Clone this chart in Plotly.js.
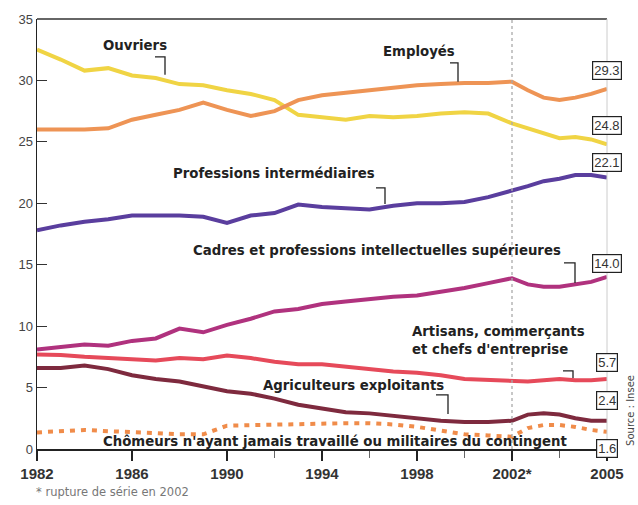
<!DOCTYPE html>
<html>
<head>
<meta charset="utf-8">
<script src="https://cdn.plot.ly/plotly-3.0.1.min.js"></script>
<style>html,body{margin:0;padding:0;background:#fff;}#chart{width:638px;height:505px;}</style>
</head>
<body>
<div id="chart"></div>
<script>
// Years (yearly to 2002, then half-yearly to 2005)
const years = [1982,1983,1984,1985,1986,1987,1988,1989,1990,1991,1992,1993,1994,1995,1996,1997,1998,1999,2000,2001,2002,2002.5,2003,2003.5,2004,2004.5,2005];

const ouvriers      = [32.5,31.7,30.8,31.0,30.4,30.2,29.7,29.6,29.2,28.9,28.4,27.2,27.0,26.8,27.1,27.0,27.1,27.3,27.4,27.3,26.5,26.1,25.7,25.3,25.4,25.2,24.8];
const employes      = [26.0,26.0,26.0,26.1,26.8,27.2,27.6,28.2,27.6,27.1,27.5,28.4,28.8,29.0,29.2,29.4,29.6,29.7,29.8,29.8,29.9,29.2,28.6,28.4,28.6,28.9,29.3];
const profInter     = [17.8,18.2,18.5,18.7,19.0,19.0,19.0,18.9,18.4,19.0,19.2,19.9,19.7,19.6,19.5,19.8,20.0,20.0,20.1,20.5,21.0,21.4,21.8,22.0,22.3,22.3,22.1];
const cadres        = [8.1,8.3,8.5,8.4,8.8,9.0,9.8,9.5,10.1,10.6,11.2,11.4,11.8,12.0,12.2,12.4,12.5,12.8,13.1,13.5,13.9,13.4,13.2,13.2,13.4,13.6,14.0];
const artisans      = [7.7,7.65,7.5,7.4,7.3,7.2,7.4,7.3,7.6,7.4,7.1,6.9,6.9,6.7,6.5,6.3,6.2,6.0,5.7,5.6,5.5,5.5,5.6,5.7,5.6,5.6,5.7];
const agriculteurs  = [6.6,6.6,6.8,6.5,6.0,5.7,5.5,5.1,4.7,4.5,4.1,3.6,3.3,3.0,2.9,2.7,2.5,2.3,2.2,2.2,2.3,2.8,2.9,2.8,2.5,2.3,2.3];
const chomeurs      = [1.35,1.45,1.55,1.45,1.4,1.3,1.2,1.2,1.9,1.95,2.0,2.05,2.1,2.1,2.1,2.0,1.8,1.5,1.2,1.1,1.0,1.7,1.95,1.95,1.8,1.55,1.4];

const tickYears  = [1982,1986,1990,1994,1998,2002,2005];
const tickLabels = ["1982","1986","1990","1994","1998","2002*","2005"];
const minorYears = [1992,1996,2000,2003.5];
const endLabels  = ["29.3","24.8","22.1","14.0","5.7","2.4","1.6"];

// The axis is stretched after the 2002 series break
function pos(y){ return y <= 2002 ? y : 2002 + (y - 2002) * 4 / 3; }
const xs = years.map(pos);

// pixel helpers for label placement
const X0 = 37, PXX = 23.75, Y0 = 449, PXY = 12.28;
function px(p){ return 1982 + (p - X0) / PXX; }
function py(p){ return (Y0 - p) / PXY; }

const series = [
  {name:"Ouvriers", y:ouvriers, color:"#f0d444"},
  {name:"Employés", y:employes, color:"#ee9455"},
  {name:"Professions intermédiaires", y:profInter, color:"#5a3e9e"},
  {name:"Cadres", y:cadres, color:"#b0327e"},
  {name:"Artisans", y:artisans, color:"#e64a5a"},
  {name:"Agriculteurs", y:agriculteurs, color:"#7e2a3e"}
];
const traces = series.map(s => ({
  x: xs, y: s.y, type:"scatter", mode:"lines", name:s.name,
  line:{color:s.color, width:4, shape:"linear"}, hoverinfo:"skip"
}));
traces.push({
  x: xs, y: chomeurs, type:"scatter", mode:"lines", name:"Chômeurs",
  line:{color:"#f08c4a", width:4, dash:"5px,6px"}, hoverinfo:"skip"
});

const tf = {family:"DejaVu Sans, sans-serif", size:13.3, color:"#222", weight:700};
function txt(text, x, y, extra){
  return Object.assign({text:text, x:px(x), y:py(y), xref:"x", yref:"y", showarrow:false,
    xanchor:"left", yanchor:"middle", font:tf}, extra||{});
}
const endBoxY = [71,126,163,264,363,401,448];
const annotations = [
  txt("Ouvriers", 101, 46),
  txt("Employés", 381, 52),
  txt("Professions intermédiaires", 171, 174),
  txt("Cadres et professions intellectuelles supérieures", 191, 251),
  txt("Artisans, commerçants", 410, 332),
  txt("et chefs d'entreprise", 410, 350),
  txt("Agriculteurs exploitants", 261, 386),
  txt("Chômeurs n'ayant jamais travaillé ou militaires du contingent", 101, 441),
  {text:"* rupture de série en 2002", xref:"paper", yref:"paper", x:-0.005, y:-0.1, xanchor:"left", yanchor:"middle",
   showarrow:false, font:{family:"DejaVu Sans, sans-serif", size:11.5, color:"#777"}},
  {text:"Source : Insee", xref:"paper", yref:"y", x:1.042, y:py(410), xanchor:"center", yanchor:"middle", textangle:-90,
   showarrow:false, font:{family:"DejaVu Sans, sans-serif", size:10, color:"#444"}}
];
endLabels.forEach((t,i) => {
  annotations.push({text:t, x:pos(2005), y:py(endBoxY[i]), xref:"x", yref:"y", showarrow:false,
    xanchor:"center", yanchor:"middle", bgcolor:"#fff", bordercolor:"#222", borderwidth:1.2, borderpad:1,
    font:{family:"Liberation Sans, Arial, sans-serif", size:13, color:"#333"}});
});

function bracket(x1, y1, x2, y2){
  return {type:"path", xref:"x", yref:"y",
    path:`M ${px(x1)} ${py(y1)} L ${px(x2)} ${py(y1)} L ${px(x2)} ${py(y2)}`,
    line:{color:"#222", width:1.3}};
}
const shapes = [
  {type:"line", xref:"x", yref:"paper", x0:2002, x1:2002, y0:0, y1:1, line:{color:"#aaa", width:1.3, dash:"dot"}},
  {type:"line", xref:"paper", yref:"paper", x0:0, x1:1, y0:1, y1:1, line:{color:"#333", width:1.5}},
  {type:"line", xref:"paper", yref:"paper", x0:1, x1:1, y0:0, y1:1, line:{color:"#ccc", width:1}},
  bracket(155, 57, 165, 75),
  bracket(450, 63, 458, 82),
  bracket(376, 188, 385, 204),
  bracket(564, 263, 575, 283),
  bracket(563, 371, 573, 378),
  bracket(436, 395, 448, 414)
];

const layout = {
  width:638, height:505,
  margin:{l:37, r:31, t:19, b:56},
  paper_bgcolor:"#fff", plot_bgcolor:"#fff",
  showlegend:false,
  xaxis:{range:[1982,2006], tickvals:tickYears.map(pos), ticktext:tickLabels,
    ticks:"outside", ticklen:10, tickwidth:1.5, tickcolor:"#222",
    showline:true, linecolor:"#222", linewidth:1.5, showgrid:false, zeroline:false,
    tickfont:{family:"Liberation Sans, Arial, sans-serif", size:15, color:"#333", weight:700},
    minor:{tickvals:minorYears.map(pos), ticks:"outside", ticklen:7, tickcolor:"#666", tickwidth:1.2, showgrid:false}},
  yaxis:{range:[0,35], tickvals:[0,5,10,15,20,25,30,35], ticks:"inside", ticklen:10, tickwidth:1.2, tickcolor:"#333",
    showline:true, linecolor:"#222", linewidth:1.5, showgrid:false, zeroline:false,
    tickfont:{family:"Liberation Sans, Arial, sans-serif", size:13, color:"#444"}},
  annotations:annotations,
  shapes:shapes
};
Plotly.newPlot("chart", traces, layout, {displayModeBar:false, staticPlot:true});
</script>
</body>
</html>
